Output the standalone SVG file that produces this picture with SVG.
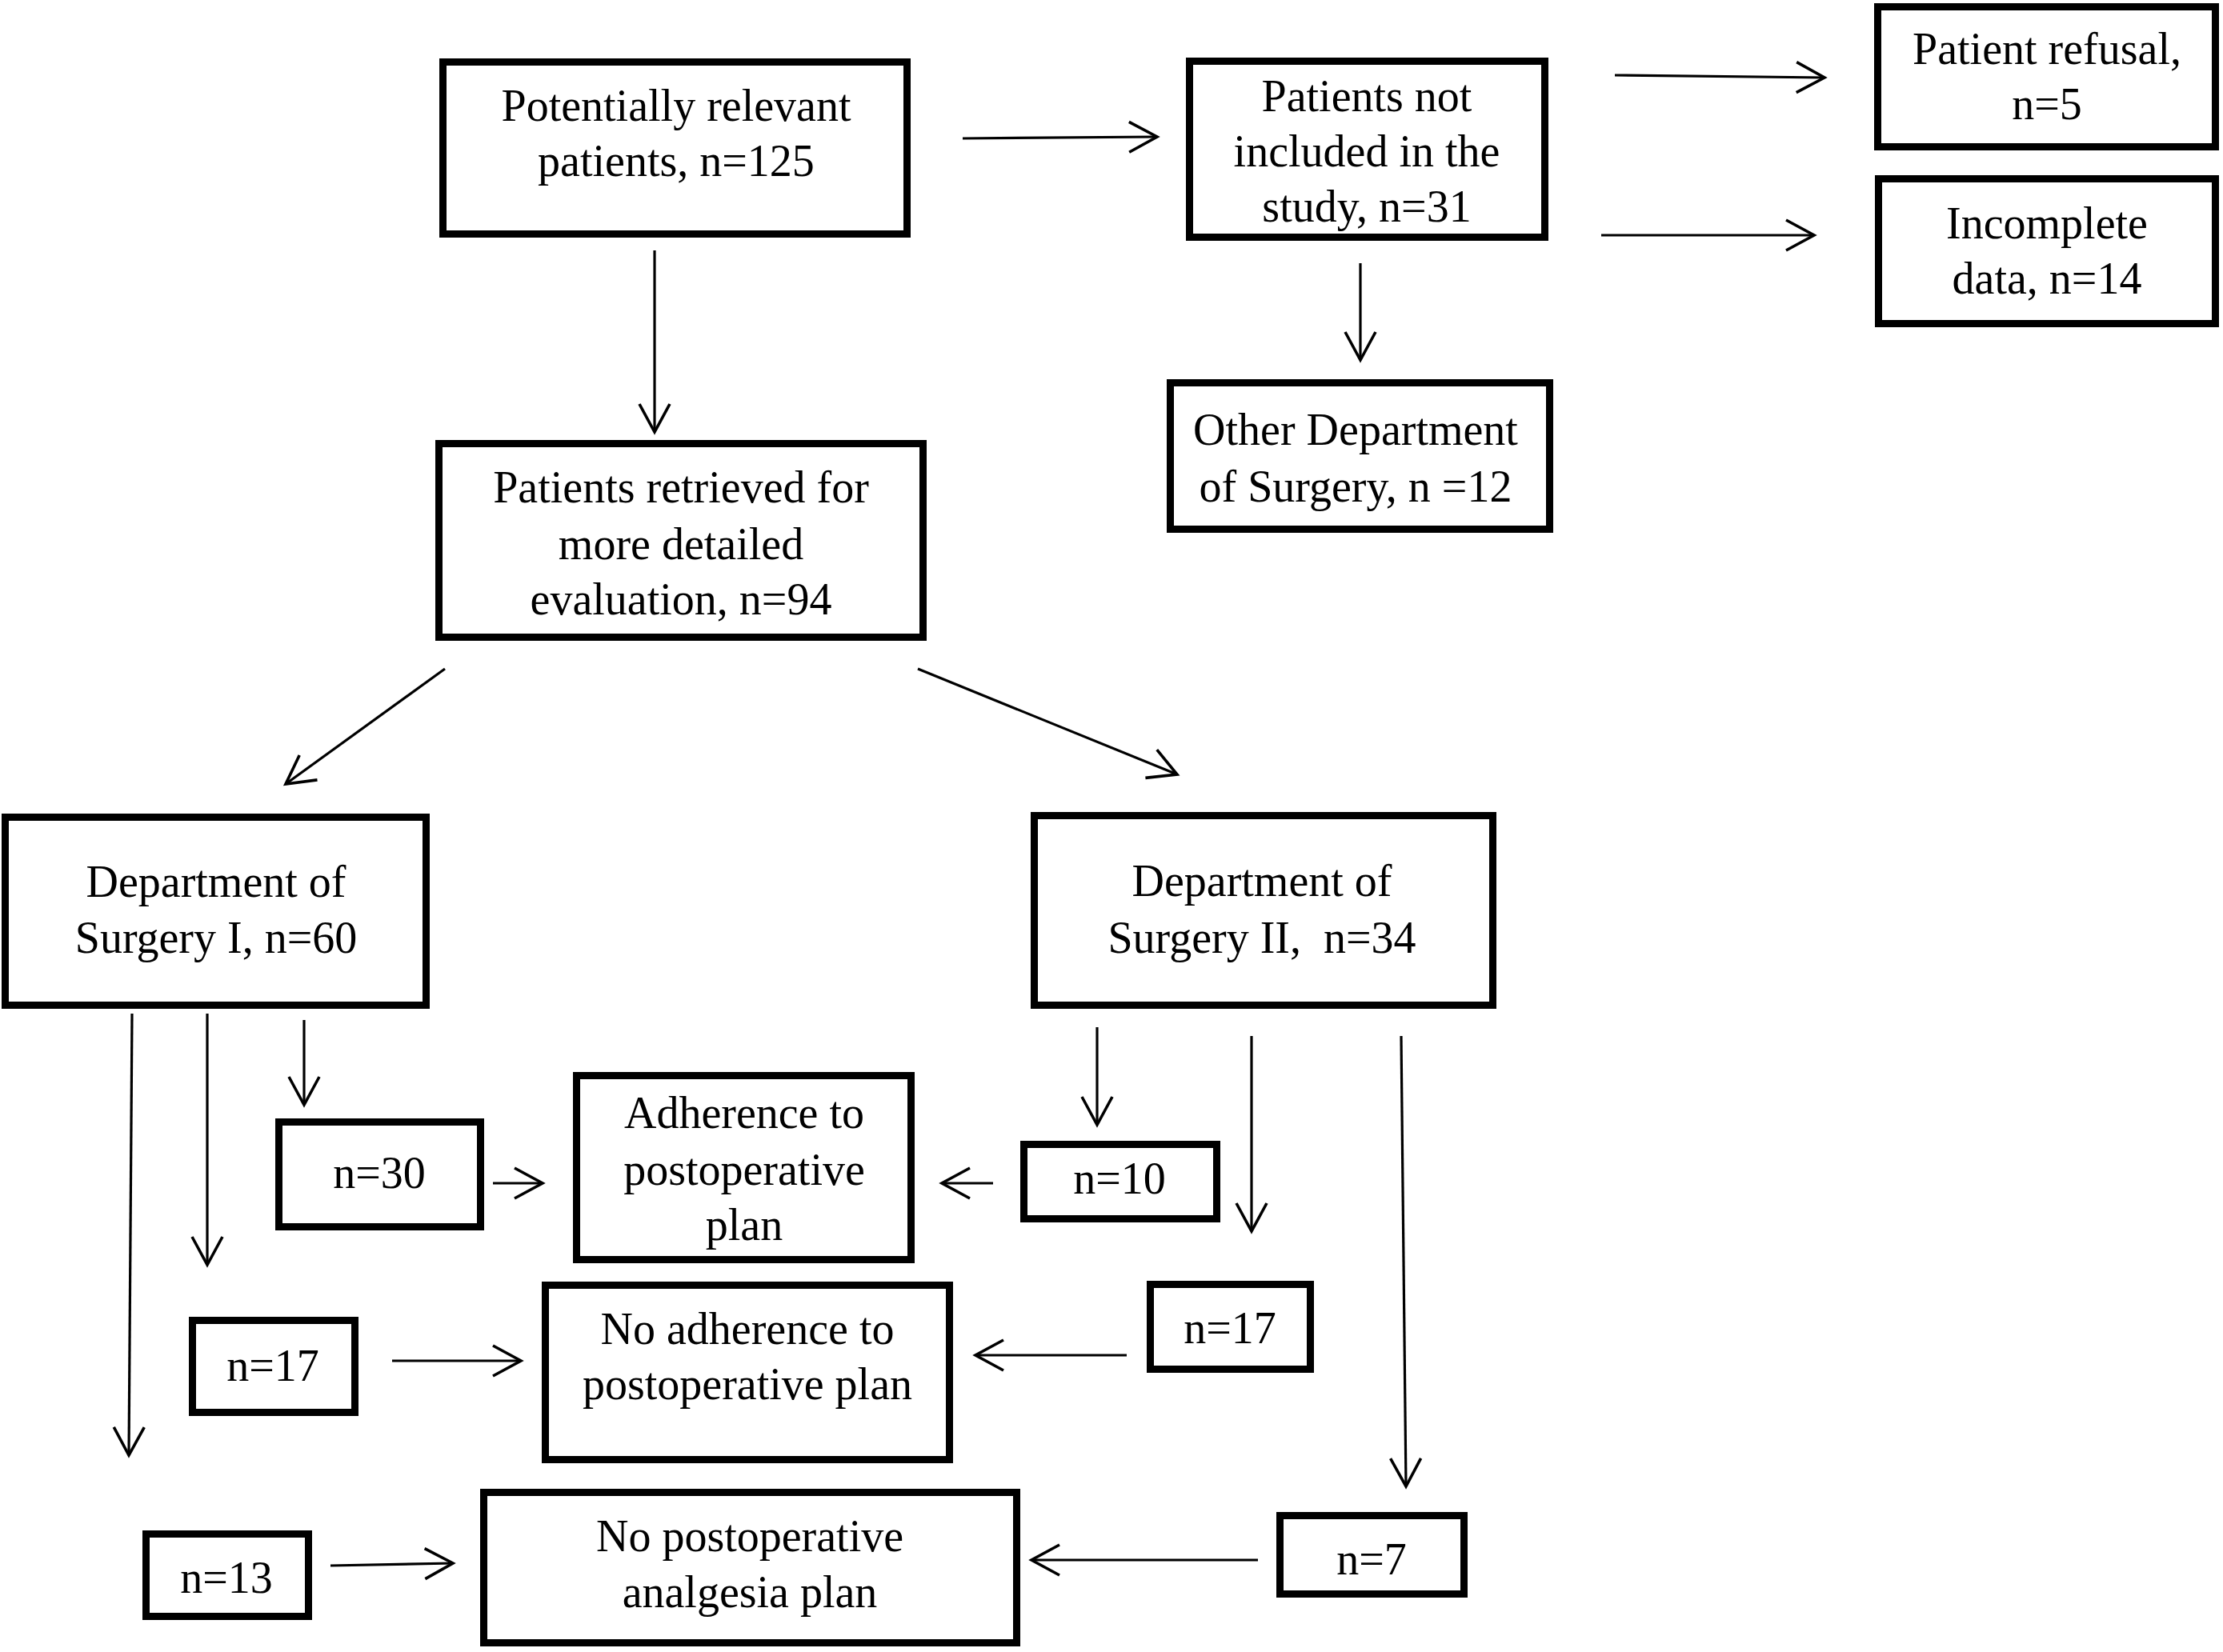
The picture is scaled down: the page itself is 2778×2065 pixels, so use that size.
<svg xmlns="http://www.w3.org/2000/svg" width="2778" height="2065" viewBox="0 0 2778 2065">
<style>
.box{fill:#fff;stroke:#000;stroke-width:9}
.t{font-family:"Liberation Serif","Times New Roman",serif;font-size:56px;fill:#000;text-anchor:middle}
.c{stroke:#000;stroke-width:3.2;fill:none;marker-end:url(#ah)}
</style>
<defs>
<marker id="ah" markerUnits="userSpaceOnUse" markerWidth="80" markerHeight="80" refX="0" refY="0" viewBox="-40 -40 80 80" orient="auto" overflow="visible">
<path d="M-35,-19 L0,0 L-35,19" fill="none" stroke="#000" stroke-width="3.6"/>
</marker>
</defs>
<rect width="2778" height="2065" fill="#fff"/>
<g id="connectors">
<line class="c" x1="1203" y1="173" x2="1446" y2="171"/>
<line class="c" x1="2018" y1="94" x2="2280" y2="97"/>
<line class="c" x1="2001" y1="294" x2="2267" y2="294"/>
<line class="c" x1="1700" y1="329" x2="1700" y2="450"/>
<line class="c" x1="818" y1="313" x2="818" y2="540"/>
<line class="c" x1="556" y1="836" x2="357" y2="980"/>
<line class="c" x1="1147" y1="836" x2="1471" y2="968"/>
<line class="c" x1="165" y1="1267" x2="161" y2="1819"/>
<line class="c" x1="259" y1="1267" x2="259" y2="1581"/>
<line class="c" x1="380" y1="1275" x2="380" y2="1381"/>
<line class="c" x1="616" y1="1479" x2="678" y2="1479"/>
<line class="c" x1="1241" y1="1479" x2="1177" y2="1479"/>
<line class="c" x1="490" y1="1701" x2="651" y2="1701"/>
<line class="c" x1="1408" y1="1694" x2="1219" y2="1694"/>
<line class="c" x1="413" y1="1957" x2="566" y2="1954"/>
<line class="c" x1="1572" y1="1950" x2="1289" y2="1950"/>
<line class="c" x1="1371" y1="1284" x2="1371" y2="1406"/>
<line class="c" x1="1564" y1="1295" x2="1564" y2="1539"/>
<line class="c" x1="1751" y1="1295" x2="1757" y2="1858"/>
</g>
<g id="potentially-relevant">
<rect class="box" x="553.5" y="77.5" width="580" height="215"/>
<text class="t" x="845" y="151">Potentially relevant</text>
<text class="t" x="845" y="220">patients, n=125</text>
</g>
<g id="not-included">
<rect class="box" x="1486.5" y="76.5" width="444" height="220"/>
<text class="t" x="1708" y="139">Patients not</text>
<text class="t" x="1708" y="208">included in the</text>
<text class="t" x="1708" y="277">study, n=31</text>
</g>
<g id="patient-refusal">
<rect class="box" x="2346.5" y="8.5" width="422" height="175"/>
<text class="t" x="2558" y="80">Patient refusal,</text>
<text class="t" x="2558" y="149">n=5</text>
</g>
<g id="incomplete-data">
<rect class="box" x="2347.5" y="223.5" width="421" height="181"/>
<text class="t" x="2558" y="298">Incomplete</text>
<text class="t" x="2558" y="367">data, n=14</text>
</g>
<g id="other-department">
<rect class="box" x="1462.5" y="478.5" width="474" height="183"/>
<text class="t" x="1694" y="556">Other Department</text>
<text class="t" x="1694" y="627">of Surgery, n =12</text>
</g>
<g id="retrieved">
<rect class="box" x="548.5" y="554.5" width="605" height="242"/>
<text class="t" x="851" y="628">Patients retrieved for</text>
<text class="t" x="851" y="699">more detailed</text>
<text class="t" x="851" y="768">evaluation, n=94</text>
</g>
<g id="surgery-1">
<rect class="box" x="6.5" y="1021.5" width="526" height="235"/>
<text class="t" x="270" y="1121">Department of</text>
<text class="t" x="270" y="1191">Surgery I, n=60</text>
</g>
<g id="surgery-2">
<rect class="box" x="1292.5" y="1019.5" width="573" height="237"/>
<text class="t" x="1577" y="1120">Department of</text>
<text class="t" x="1577" y="1191">Surgery II,&#160; n=34</text>
</g>
<g id="s1-n30">
<rect class="box" x="348.5" y="1402.5" width="252" height="131"/>
<text class="t" x="474" y="1485">n=30</text>
</g>
<g id="adherence">
<rect class="box" x="720.5" y="1344.5" width="418" height="230"/>
<text class="t" x="930" y="1410">Adherence to</text>
<text class="t" x="930" y="1481">postoperative</text>
<text class="t" x="930" y="1550">plan</text>
</g>
<g id="s2-n10">
<rect class="box" x="1279.5" y="1430.5" width="241" height="93"/>
<text class="t" x="1399" y="1492">n=10</text>
</g>
<g id="s1-n17">
<rect class="box" x="240.5" y="1650.5" width="203" height="115"/>
<text class="t" x="341" y="1726">n=17</text>
</g>
<g id="no-adherence">
<rect class="box" x="681.5" y="1606.5" width="505" height="218"/>
<text class="t" x="934" y="1680">No adherence to</text>
<text class="t" x="934" y="1749">postoperative plan</text>
</g>
<g id="s2-n17">
<rect class="box" x="1437.5" y="1605.5" width="200" height="106"/>
<text class="t" x="1537" y="1679">n=17</text>
</g>
<g id="s1-n13">
<rect class="box" x="182.5" y="1917.5" width="203" height="103"/>
<text class="t" x="283" y="1991">n=13</text>
</g>
<g id="no-analgesia-plan">
<rect class="box" x="604.5" y="1865.5" width="666" height="188"/>
<text class="t" x="937" y="1939">No postoperative</text>
<text class="t" x="937" y="2009">analgesia plan</text>
</g>
<g id="s2-n7">
<rect class="box" x="1599.5" y="1894.5" width="230" height="98"/>
<text class="t" x="1714" y="1968">n=7</text>
</g>
</svg>
